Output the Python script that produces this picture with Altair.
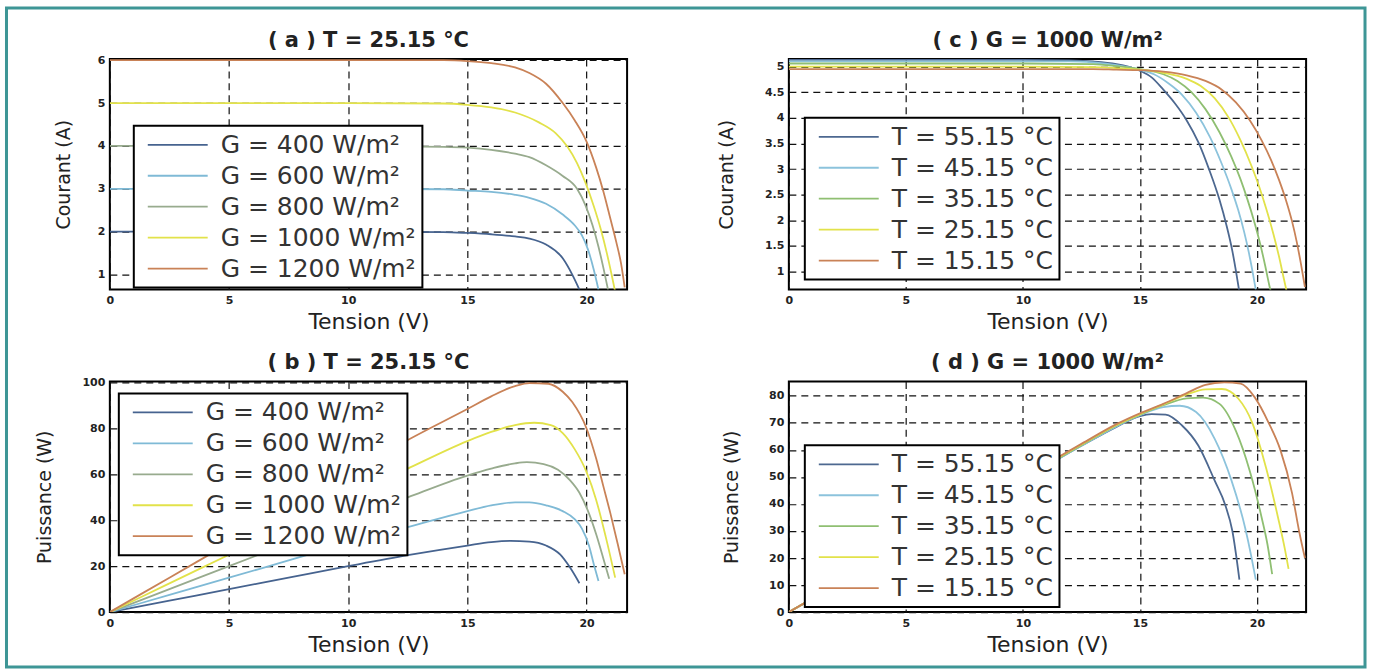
import altair as alt
import pandas as pd

# ---------------- labels & colours ----------------
G_LABELS = ["G = 400 W/m²", "G = 600 W/m²", "G = 800 W/m²", "G = 1000 W/m²", "G = 1200 W/m²"]
T_LABELS = ["T = 55.15 °C", "T = 45.15 °C", "T = 35.15 °C", "T = 25.15 °C", "T = 15.15 °C"]
G_COLORS = ["#46638f", "#7fbad6", "#98ab8e", "#e2e24a", "#c98257"]
T_COLORS = ["#4d6890", "#8cc3dc", "#8fbf72", "#e2e24a", "#c98257"]
WIDTHS = [1.8, 1.8, 1.8, 3.5, 1.8]
X_TICKS = [0, 5, 10, 15, 20]
TITLES = ["( a ) T = 25.15 °C", "( b ) T = 25.15 °C", "( c )  G = 1000 W/m²", "( d )  G = 1000 W/m²"]

# ---------------- (a) I-V, T = 25.15 C ----------------
A400_V = [0, 5, 10, 14, 15, 16, 17, 17.6, 18.3, 19.0, 19.4, 19.7]
A400_I = [2.0, 2.0, 2.0, 1.99, 1.97, 1.94, 1.89, 1.84, 1.7, 1.38, 1.0, 0.65]
A600_V = [0, 5, 10, 14, 15, 16, 17, 17.6, 18.3, 19.0, 19.5, 19.8, 20.05, 20.3, 20.5]
A600_I = [3.0, 3.0, 3.0, 2.99, 2.96, 2.93, 2.86, 2.79, 2.65, 2.4, 2.15, 1.92, 1.6, 1.12, 0.65]
A800_V = [0, 5, 10, 14, 15, 16, 17, 17.6, 18.3, 19.0, 19.6, 19.95, 20.25, 20.5, 20.72, 20.9]
A800_I = [4.0, 4.0, 4.0, 3.98, 3.96, 3.91, 3.82, 3.74, 3.55, 3.3, 3.0, 2.62, 2.15, 1.65, 1.12, 0.65]
A1000_V = [0, 5, 10, 14, 15, 16, 17, 18, 18.7, 19.2, 19.6, 19.95, 20.3, 20.6, 20.85, 21.05, 21.2]
A1000_I = [5.0, 5.0, 5.0, 4.99, 4.96, 4.9, 4.78, 4.55, 4.3, 3.98, 3.6, 3.15, 2.6, 2.05, 1.5, 1.0, 0.6]
A1200_V = [0, 5, 10, 14, 15, 16, 17, 17.6, 18.3, 19.0, 19.5, 20.0, 20.4, 20.7, 21.0, 21.25, 21.45, 21.6]
A1200_I = [6.0, 6.0, 6.0, 6.0, 5.98, 5.93, 5.83, 5.7, 5.45, 5.0, 4.6, 4.1, 3.5, 2.95, 2.3, 1.75, 1.25, 0.7]

# ---------------- (b) P-V, T = 25.15 C ----------------
B400_V = [0, 2.5, 5, 7.5, 10, 12.5, 15, 16, 16.8, 17.6, 18.3, 18.9, 19.3, 19.7]
B400_P = [0, 5, 10, 15, 20, 24.8, 29, 30.5, 31, 30.7, 29, 25, 19.5, 12.6]
B600_V = [0, 2.5, 5, 7.5, 10, 12.5, 15, 16, 17, 17.6, 18.3, 19.0, 19.5, 19.8, 20.1, 20.3, 20.5]
B600_P = [0, 7.5, 15, 22.5, 30, 37, 44, 46.5, 47.8, 47.8, 46.5, 44, 40.5, 36.5, 29, 21, 13.5]
B800_V = [0, 2.5, 5, 7.5, 10, 12.5, 15, 16, 17, 17.5, 18.2, 18.8, 19.3, 19.7, 20.1, 20.4, 20.7, 20.95]
B800_P = [0, 10, 20, 30, 40, 50, 59.5, 62.5, 64.8, 65.3, 64.5, 62, 57.5, 52, 43, 34, 23.5, 14.5]
B1000_V = [0, 2.5, 5, 7.5, 10, 12.5, 15, 16, 17, 17.8, 18.5, 19.0, 19.5, 20.0, 20.4, 20.8, 21.2]
B1000_P = [0, 12.5, 25, 37.5, 50, 62.5, 74.5, 78.5, 81.5, 82.5, 81.5, 78, 71, 61, 49, 33, 15]
B1200_V = [0, 2.5, 5, 7.5, 10, 12.5, 15, 16, 17, 17.6, 18.4, 19.0, 19.4, 20.0, 20.4, 20.7, 21.0, 21.3, 21.6]
B1200_P = [0, 15, 30, 45, 60, 75, 88.5, 94, 98.5, 99.8, 99.5, 96, 91.5, 80, 67, 55, 43, 30, 16.5]

# ---------------- (c) I-V, G = 1000 W/m2 ----------------
C55_V = [0, 5, 10, 12, 13, 14, 14.5, 15, 15.5, 16, 16.5, 17, 17.5, 17.95, 18.4, 18.7, 18.95, 19.1, 19.25]
C55_I = [5.13, 5.13, 5.13, 5.12, 5.1, 5.05, 5.0, 4.92, 4.79, 4.55, 4.28, 3.95, 3.52, 3.0, 2.4, 1.9, 1.4, 1.02, 0.6]
C45_V = [0, 5, 10, 12, 13, 14, 15, 15.6, 16.2, 16.8, 17.4, 18.0, 18.5, 18.9, 19.2, 19.45, 19.65, 19.82, 19.95]
C45_I = [5.1, 5.1, 5.1, 5.1, 5.08, 5.03, 4.94, 4.85, 4.68, 4.45, 4.1, 3.62, 3.1, 2.62, 2.2, 1.78, 1.38, 0.98, 0.65]
C35_V = [0, 5, 10, 13, 14, 15, 16, 16.6, 17.2, 17.8, 18.4, 18.9, 19.3, 19.6, 19.9, 20.15, 20.35, 20.52, 20.65]
C35_I = [5.06, 5.06, 5.06, 5.05, 5.01, 4.95, 4.85, 4.72, 4.5, 4.17, 3.72, 3.25, 2.8, 2.4, 1.95, 1.52, 1.12, 0.75, 0.5]
C25_V = [0, 5, 10, 13, 14, 15, 16, 17, 17.6, 18.2, 18.8, 19.3, 19.75, 20.1, 20.4, 20.7, 20.95, 21.15, 21.35]
C25_I = [5.0, 5.0, 5.0, 4.99, 4.97, 4.94, 4.88, 4.76, 4.62, 4.38, 4.0, 3.56, 3.08, 2.65, 2.22, 1.74, 1.28, 0.86, 0.45]
C15_V = [0, 5, 10, 13, 14, 15, 16, 17, 17.8, 18.5, 19.1, 19.7, 20.2, 20.6, 20.95, 21.25, 21.5, 21.7, 21.88, 22.05]
C15_I = [4.95, 4.95, 4.95, 4.95, 4.94, 4.93, 4.9, 4.83, 4.72, 4.55, 4.3, 3.95, 3.56, 3.18, 2.78, 2.38, 1.98, 1.58, 1.15, 0.7]

# ---------------- (d) P-V, G = 1000 W/m2 ----------------
D55_V = [0, 5, 10, 12.5, 14, 15, 15.5, 16.1, 16.8, 17.5, 18.2, 18.65, 18.95, 19.25]
D55_P = [0, 24.5, 49, 61.5, 68.5, 72.5, 73.2, 73, 69, 61.5, 48.5, 39.5, 30, 12]
D45_V = [0, 5, 10, 12.5, 14, 15, 16, 16.7, 17.4, 18.2, 18.9, 19.5, 19.75, 19.95]
D45_P = [0, 24.6, 49.2, 61.5, 68.7, 72.8, 75.8, 76.3, 74, 64, 49, 31, 21, 12]
D35_V = [0, 5, 10, 12.5, 14, 15, 16, 17, 17.7, 18.4, 19.1, 19.7, 20.2, 20.45, 20.65]
D35_P = [0, 24.7, 49.4, 61.7, 69, 73, 76.5, 79, 79.3, 77, 67, 52, 35, 25, 14]
D25_V = [0, 5, 10, 12.5, 14, 15, 16, 17, 17.8, 18.5, 19.2, 19.8, 20.4, 20.9, 21.2, 21.35]
D25_P = [0, 24.8, 49.6, 62, 69.2, 73.2, 76.8, 80.5, 82.4, 82.5, 79, 70, 53, 35, 23, 16]
D15_V = [0, 5, 10, 12.5, 14, 15, 16, 17, 17.8, 18.6, 19.3, 19.9, 20.5, 21.0, 21.5, 21.8, 22.05]
D15_P = [0, 24.9, 49.8, 62.2, 69.5, 73.5, 77, 81, 84, 85, 84.5, 79.5, 70, 60, 44, 30, 20]

FONT = "DejaVu Sans"
W, H = 518, 231


def frame(labels, xs_list, ys_list):
    rows = []
    for lab, xs, ys in zip(labels, xs_list, ys_list):
        for k, (x, y) in enumerate(zip(xs, ys)):
            rows.append({"series": lab, "V": x, "Y": y, "k": k})
    return pd.DataFrame(rows)


def panel(df, labels, colors, title, ytitle, xmax, ydom, yvals, ydist, lx, ly, with_frame=False):
    grid = dict(grid=True, gridDash=[7, 5], gridColor="#111111", gridWidth=1.2,
                ticks=False, domain=False, labelFont=FONT, labelFontSize=11,
                labelFontWeight="bold", labelColor="#222222", labelPadding=5,
                labelFlush=False, titleFont=FONT, titleFontWeight="normal",
                titleColor="#222222", labelExpr="'' + datum.value")
    lines = alt.Chart(df).mark_line(clip=True, interpolate="monotone").encode(
        x=alt.X("V:Q", scale=alt.Scale(domain=[0, xmax], nice=False, zero=False),
                axis=alt.Axis(values=X_TICKS, title="Tension (V)", titleFontSize=22,
                              titleX=W / 2, titleY=32, titleBaseline="middle",
                              titleAlign="center", **grid)),
        y=alt.Y("Y:Q", scale=alt.Scale(domain=ydom, nice=False, zero=False),
                axis=alt.Axis(values=yvals, title=ytitle, titleFontSize=19,
                              titleX=-ydist, titleY=H / 2, titleAngle=270,
                              titleBaseline="middle", titleAlign="center", **grid)),
        color=alt.Color("series:N", sort=labels,
                        scale=alt.Scale(domain=labels, range=colors),
                        legend=alt.Legend(orient="none", legendX=lx, legendY=ly, title=None,
                                          symbolType="stroke", symbolSize=3600,
                                          symbolStrokeWidth=2, clipHeight=26, rowPadding=5,
                                          padding=6, symbolOffset=7, labelOffset=12,
                                          labelFont=FONT, labelFontSize=25,
                                          labelColor="#333333", labelLimit=400,
                                          strokeColor="black", fillColor="white")),
        strokeWidth=alt.StrokeWidth("series:N", scale=alt.Scale(domain=labels, range=WIDTHS),
                                    legend=None),
        order="k:Q",
    )
    head = alt.Chart(pd.DataFrame({"t": [title]})).mark_text(
        font=FONT, fontSize=21, fontWeight="bold", color="#222222",
        align="center", baseline="alphabetic"
    ).encode(x=alt.value(W / 2), y=alt.value(-12), text="t:N")
    layers = [lines, head]
    if with_frame:
        border = alt.Chart(pd.DataFrame({"f": [0]})).mark_rect(
            fillOpacity=0, stroke="#3e9696", strokeWidth=3, clip=False
        ).encode(x=alt.value(-103.5), x2=alt.value(1257), y=alt.value(-51), y2=alt.value(609))
        layers = [border] + layers
    return alt.layer(*layers).properties(width=W, height=H)


dfA = frame(G_LABELS, [A400_V, A600_V, A800_V, A1000_V, A1200_V],
            [A400_I, A600_I, A800_I, A1000_I, A1200_I])
dfB = frame(G_LABELS, [B400_V, B600_V, B800_V, B1000_V, B1200_V],
            [B400_P, B600_P, B800_P, B1000_P, B1200_P])
dfC = frame(T_LABELS, [C55_V, C45_V, C35_V, C25_V, C15_V],
            [C55_I, C45_I, C35_I, C25_I, C15_I])
dfD = frame(T_LABELS, [D55_V, D45_V, D35_V, D25_V, D15_V],
            [D55_P, D45_P, D35_P, D25_P, D15_P])

pa = panel(dfA, G_LABELS, G_COLORS, TITLES[0], "Courant (A)", 21.7, [0.65, 6.03],
           [1, 2, 3, 4, 5, 6], 46, 24, 67, with_frame=True)
pb = panel(dfB, G_LABELS, G_COLORS, TITLES[1], "Puissance (W)", 21.7, [0, 100.5],
           [0, 20, 40, 60, 80, 100], 65, 9, 12)
pc = panel(dfC, T_LABELS, T_COLORS, TITLES[2], "Courant (A)", 22.1, [0.65, 5.15],
           [1, 1.5, 2, 2.5, 3, 3.5, 4, 4.5, 5], 62, 16, 59)
pd_ = panel(dfD, T_LABELS, T_COLORS, TITLES[3], "Puissance (W)", 22.1, [0, 85.3],
            [0, 10, 20, 30, 40, 50, 60, 70, 80], 57, 16, 64)

chart = alt.concat(pa, pc, pb, pd_, columns=2, spacing={"row": 92, "column": 162},
                   bounds="flush").resolve_scale(
    color="independent", strokeWidth="independent", x="independent", y="independent"
).resolve_legend(color="independent").properties(
    padding={"left": 4, "top": 4.5, "right": 5, "bottom": 3},
    background="white",
).configure_view(stroke="black", strokeWidth=2, fill="white").configure_legend(strokeWidth=2)

chart.save("out.html", embed_options={"renderer": "svg", "actions": False})
